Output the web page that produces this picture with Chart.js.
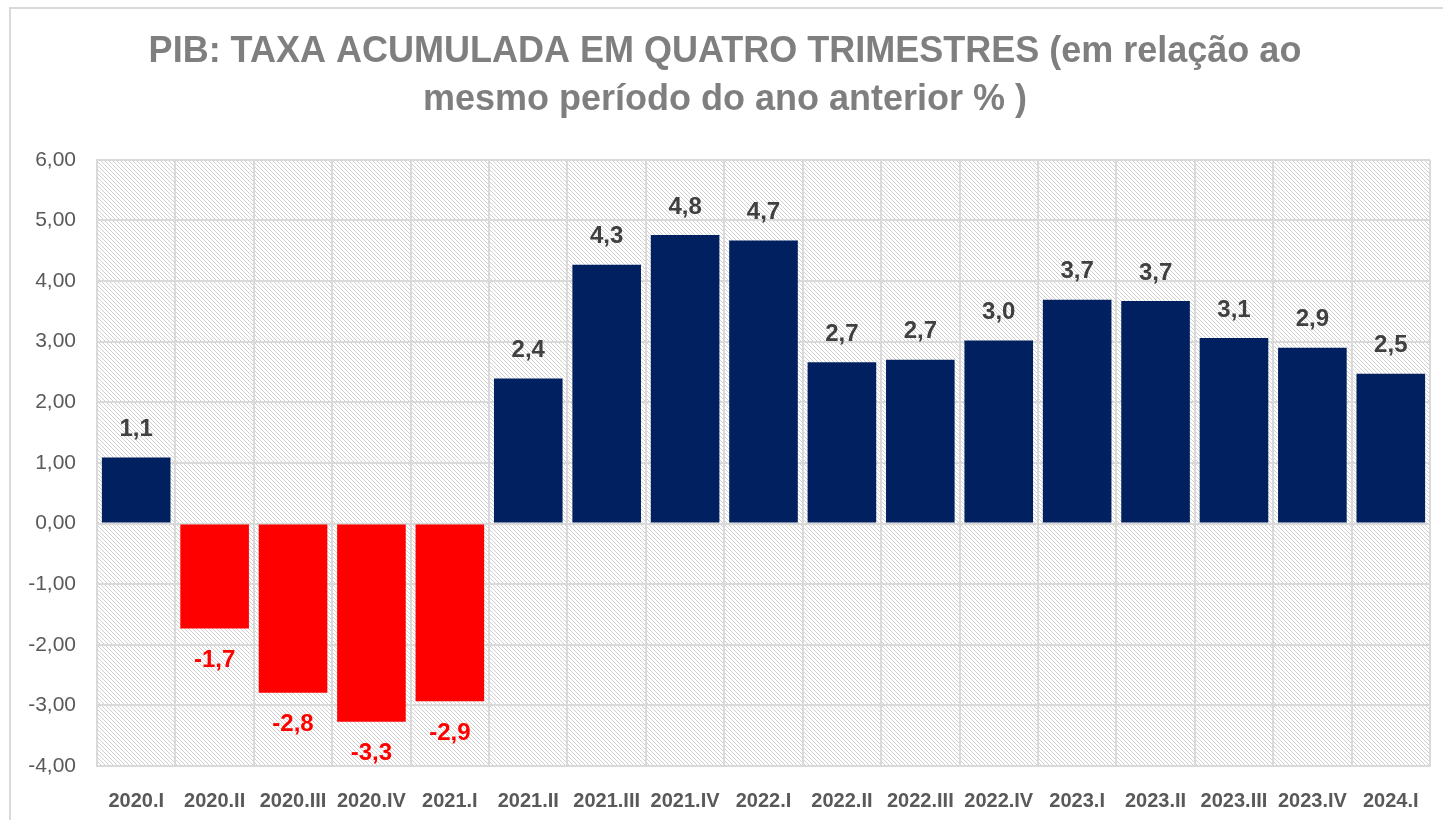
<!DOCTYPE html>
<html>
<head>
<meta charset="utf-8">
<script src="https://cdn.jsdelivr.net/npm/chart.js@4/dist/chart.umd.min.js"></script>
<style>
  html, body { margin: 0; padding: 0; background: #ffffff; }
  #wrap { position: relative; width: 1443px; height: 820px; overflow: hidden; }
  #frame { position: absolute; left: 9px; top: 7px; width: 1500px; height: 900px;
           border-top: 2px solid #d9d9d9; border-left: 2px solid #d9d9d9; }
  #c { position: absolute; left: 0; top: 0; }
</style>
</head>
<body>
<div id="wrap">
  <div id="frame"></div>
  <canvas id="c" width="1443" height="820"></canvas>
</div>
<script>
// ---- data ----
const categories = ['2020.I','2020.II','2020.III','2020.IV','2021.I','2021.II','2021.III','2021.IV',
  '2022.I','2022.II','2022.III','2022.IV','2023.I','2023.II','2023.III','2023.IV','2024.I'];
const pibValues = [1.09, -1.73, -2.79, -3.27, -2.93, 2.39, 4.27, 4.76, 4.67, 2.66, 2.70, 3.02, 3.69, 3.67, 3.06, 2.90, 2.47];
const yTicks = [-4, -3, -2, -1, 0, 1, 2, 3, 4, 5, 6];
const titleLines = ['PIB: TAXA ACUMULADA EM QUATRO TRIMESTRES (em relação ao', 'mesmo período do ano anterior % )'];

const POS_COLOR = '#002060';
const NEG_COLOR = '#ff0000';
const fmt1 = v => (Math.round(v * 10) / 10).toFixed(1).replace('.', ',');
const fmt2 = v => v.toFixed(2).replace('.', ',');

// hatch pattern
const tile = document.createElement('canvas');
tile.width = 4; tile.height = 4;
const tctx = tile.getContext('2d');
tctx.fillStyle = '#ffffff';
tctx.fillRect(0, 0, 4, 4);
const img = tctx.getImageData(0, 0, 4, 4);
for (let i = 0; i < 4; i++) {
  const k = (i * 4 + i) * 4;
  img.data[k] = 208; img.data[k+1] = 208; img.data[k+2] = 208; img.data[k+3] = 255;
}
tctx.putImageData(img, 0, 0);

const hatchPlugin = {
  id: 'hatch',
  beforeDraw(chart) {
    const { ctx, chartArea: a } = chart;
    ctx.save();
    ctx.fillStyle = ctx.createPattern(tile, 'repeat');
    ctx.fillRect(a.left, a.top, a.right - a.left, a.bottom - a.top);
    ctx.restore();
  }
};

const labelPlugin = {
  id: 'barLabels',
  afterDatasetsDraw(chart) {
    const { ctx } = chart;
    const meta = chart.getDatasetMeta(0);
    ctx.save();
    ctx.font = 'bold 24px "Liberation Sans", Arial, sans-serif';
    ctx.textAlign = 'center';
    ctx.textBaseline = 'middle';
    meta.data.forEach((bar, i) => {
      const v = pibValues[i];
      if (v >= 0) {
        ctx.fillStyle = '#404040';
        ctx.fillText(fmt1(v), bar.x, bar.y - 28);
      } else {
        ctx.fillStyle = NEG_COLOR;
        ctx.fillText(fmt1(v), bar.x, bar.y + 32);
      }
    });
    ctx.restore();
  }
};

new Chart(document.getElementById('c'), {
  type: 'bar',
  data: {
    labels: categories,
    datasets: [{
      data: pibValues,
      backgroundColor: pibValues.map(v => v < 0 ? NEG_COLOR : POS_COLOR),
      borderWidth: 0,
      categoryPercentage: 1.0,
      barPercentage: 0.875
    }]
  },
  options: {
    responsive: false,
    animation: false,
    layout: { padding: { left: 20, right: 13, top: 28, bottom: 0 } },
    plugins: {
      legend: { display: false },
      tooltip: { enabled: false },
      title: {
        display: true,
        text: titleLines,
        color: '#7f7f7f',
        font: { family: '"Liberation Sans", Arial, sans-serif', size: 36, weight: 'bold', lineHeight: 1.33 },
        padding: { top: 0, bottom: 36 }
      }
    },
    scales: {
      x: {
        grid: { color: '#d9d9d9', lineWidth: 2, drawTicks: false, offset: true },
        border: { display: true, color: '#d9d9d9', width: 2 },
        ticks: {
          color: '#595959',
          font: { family: '"Liberation Sans", Arial, sans-serif', size: 20, weight: 'bold' },
          padding: 23,
          maxRotation: 0,
          autoSkip: false
        },
        afterFit(scale) { scale.height = 54; }
      },
      y: {
        min: -4, max: 6,
        afterBuildTicks(scale) { scale.ticks = yTicks.map(v => ({ value: v })); },
        grid: { color: '#d9d9d9', lineWidth: 2, drawTicks: false },
        border: { display: true, color: '#d9d9d9', width: 2 },
        ticks: {
          color: '#595959',
          font: { family: '"Liberation Sans", Arial, sans-serif', size: 21 },
          padding: 21,
          callback: v => fmt2(v)
        },
        afterFit(scale) { scale.width = 77; }
      }
    }
  },
  plugins: [hatchPlugin, labelPlugin]
});
</script>
</body>
</html>
